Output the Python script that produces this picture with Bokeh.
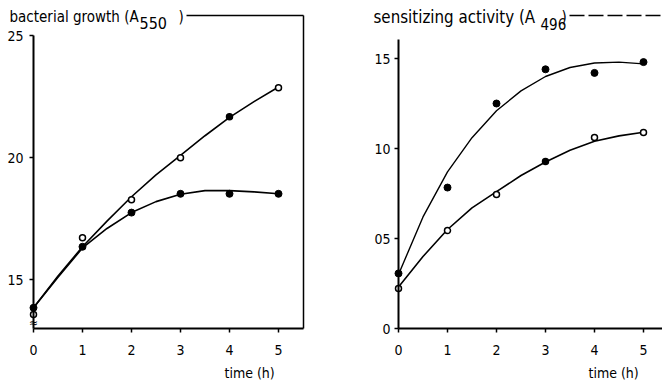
from bokeh.plotting import figure
from bokeh.models import Range1d, LinearAxis, FixedTicker, Label, ColumnDataSource
from bokeh.layouts import row
from bokeh.embed import file_html
from bokeh.resources import INLINE

# ---- data ----
time_h = [0, 1, 2, 3, 4, 5]

growth_open = [13.57, 16.72, 18.28, 20.0, 21.68, 22.87]
growth_open_fill = ["white", "white", "white", "white", "black", "white"]
growth_filled = [13.85, 16.35, 17.75, 18.52, 18.52, 18.52]

curve_t = [0, 0.5, 1, 1.5, 2, 2.5, 3, 3.5, 4, 4.5, 5]
growth_curve_upper = [13.85, 15.15, 16.35, 17.4, 18.4, 19.3, 20.1, 20.9, 21.65, 22.3, 22.9]
growth_curve_lower = [13.85, 15.1, 16.3, 17.1, 17.75, 18.2, 18.5, 18.65, 18.65, 18.6, 18.52]

activity_filled = [0.306, 0.783, 1.25, 1.44, 1.42, 1.48]
activity_open = [0.222, 0.544, 0.744, 0.928, 1.061, 1.089]
activity_open_fill = ["white", "white", "white", "black", "white", "white"]
activity_curve_upper = [0.30, 0.62, 0.87, 1.06, 1.21, 1.32, 1.40, 1.45, 1.475, 1.48, 1.47]
activity_curve_lower = [0.23, 0.40, 0.55, 0.67, 0.76, 0.85, 0.925, 0.99, 1.04, 1.07, 1.09]

growth_ticks = [15, 20, 25]
growth_tick_labels = ["15", "20", "25"]
activity_ticks = [0, 0.5, 1.0, 1.5]
activity_tick_labels = ["0", "05", "10", "15"]
x_ticks = [0, 1, 2, 3, 4, 5]

FONT = "DejaVu Sans Condensed"
FS = "14px"
H = 382
DY = 5  # rendered baseline sits ~5px lower than requested


def style_axis(ax, ticks, labels=None):
    ax.ticker = FixedTicker(ticks=ticks)
    ax.axis_line_width = 2
    ax.axis_line_color = "black"
    ax.major_tick_line_width = 1.5
    ax.major_tick_line_color = "black"
    ax.major_tick_out = 4
    ax.major_tick_in = 0
    ax.minor_tick_line_color = None
    ax.major_label_text_font = FONT
    ax.major_label_text_font_size = FS
    ax.major_label_text_color = "black"
    if labels is not None:
        ax.major_label_overrides = {t: l for t, l in zip(ticks, labels)}


def frame_line_axis(ax, bounds, dash="solid"):
    ax.ticker = FixedTicker(ticks=[])
    ax.axis_line_width = 1.5
    ax.axis_line_color = "black"
    ax.axis_line_dash = dash
    ax.major_tick_line_color = None
    ax.minor_tick_line_color = None
    ax.major_label_text_font_size = "0px"
    ax.bounds = bounds


def text(p, t, x, y, size="15px", align="left"):
    # x, y: canvas pixels from top-left (baseline); frame == whole canvas
    p.add_layout(Label(x=x, y=H - (y - DY), x_units="screen", y_units="screen", text=t,
                       text_font=FONT, text_font_size=size, text_color="black",
                       text_align=align, text_baseline="alphabetic"))


def base_fig(xr, yr):
    p = figure(width=331, height=H, x_range=Range1d(*xr), y_range=Range1d(*yr),
               output_backend="svg", toolbar_location=None, x_axis_location=None,
               y_axis_location=None, min_border=0)
    p.grid.visible = False
    p.outline_line_color = None
    return p


# ---------------- left panel ----------------
# t=0 at x=33 px, 49 px per hour; 13.0 at y=328 px, 24.4 px per unit
L = base_fig((-33 / 49, (331 - 33) / 49), (13.0 - 54 / 24.4, 13.0 + 328 / 24.4))
xa = LinearAxis(fixed_location=13.0)
style_axis(xa, x_ticks)
xa.major_label_standoff = 12
xa.bounds = (0, 5.5)
L.add_layout(xa, "below")
ya = LinearAxis(fixed_location=0)
style_axis(ya, growth_ticks, growth_tick_labels)
ya.bounds = (13.0, 25.0)
ya.major_label_standoff = 6
L.add_layout(ya, "left")

top_l = LinearAxis(fixed_location=13.0 + 313 / 24.4)
frame_line_axis(top_l, (3.12, 5.5))
L.add_layout(top_l, "above")
right_l = LinearAxis(fixed_location=5.5)
frame_line_axis(right_l, (13.0, 13.0 + 313 / 24.4))
L.add_layout(right_l, "right")

src_g = ColumnDataSource(dict(t=time_h, o=growth_open, of=growth_open_fill, f=growth_filled))
L.line(curve_t, growth_curve_upper, line_color="black", line_width=1.6)
L.line(curve_t, growth_curve_lower, line_color="black", line_width=1.6)
L.scatter("t", "f", source=src_g, size=7, fill_color="black", line_color="black")
L.scatter("t", "o", source=src_g, size=6, fill_color="of", line_color="black", line_width=1.5)

text(L, "bacterial growth (A", 9, 21)
text(L, "550", 139, 27, size="16px")
text(L, ")", 178, 21)
text(L, "time (h)", 224, 377, size="14px")
text(L, "\u2248", 33, 327, size="12px", align="center")

# ---------------- right panel ----------------
# t=0 at x=67 px (398 on page), 49 px per hour; 0 at y=328 px, 180 px per unit
R = base_fig((-67 / 49, (331 - 67) / 49), (-54 / 180, 328 / 180))
xb = LinearAxis(fixed_location=0)
style_axis(xb, x_ticks)
xb.major_label_standoff = 12
xb.bounds = (0, (331 - 67) / 49)
R.add_layout(xb, "below")
yb = LinearAxis(fixed_location=0)
style_axis(yb, activity_ticks, activity_tick_labels)
yb.bounds = (0, 1.606)
yb.major_label_standoff = 4
R.add_layout(yb, "left")

top_r = LinearAxis(fixed_location=313 / 180)
frame_line_axis(top_r, (3.48, (331 - 67) / 49), dash="15 4")
R.add_layout(top_r, "above")

src_a = ColumnDataSource(dict(t=time_h, o=activity_open, of=activity_open_fill, f=activity_filled))
R.line(curve_t, activity_curve_upper, line_color="black", line_width=1.4)
R.line(curve_t, activity_curve_lower, line_color="black", line_width=1.6)
R.scatter("t", "f", source=src_a, size=7, fill_color="black", line_color="black")
R.scatter("t", "o", source=src_a, size=6, fill_color="of", line_color="black", line_width=1.5)

text(R, "sensitizing activity (A", 373 - 331, 21, size="16.8px")
text(R, "496", 540 - 331, 28, size="15px")
text(R, ")", 561 - 331, 21)
text(R, "time (h)", 588 - 331, 377, size="14px")

layout = row(L, R, spacing=0)
open("out.html", "w").write(file_html(layout, INLINE))
